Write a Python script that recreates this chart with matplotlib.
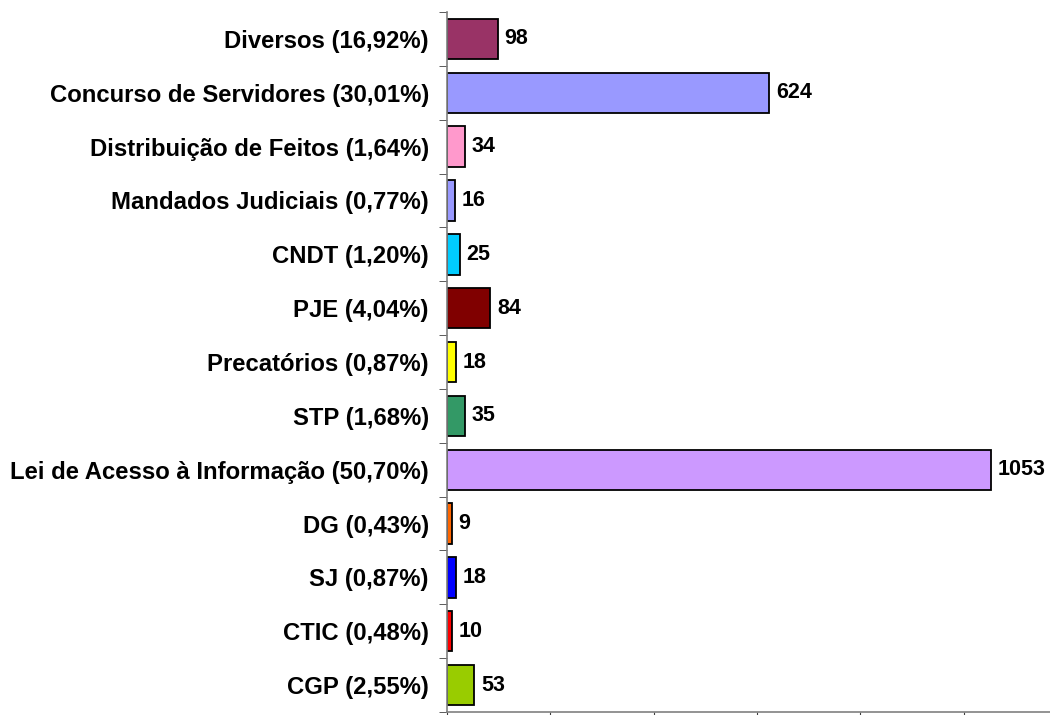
import numpy as np
import matplotlib
matplotlib.use("Agg")
import matplotlib.pyplot as plt

plt.rcParams['font.family'] = ['Liberation Sans', 'DejaVu Sans']

# Categories top to bottom, with their counts
categories = ['Diversos (16,92%)', 'Concurso de Servidores (30,01%)',
              'Distribuição de Feitos (1,64%)', 'Mandados Judiciais (0,77%)',
              'CNDT (1,20%)', 'PJE (4,04%)', 'Precatórios (0,87%)',
              'STP (1,68%)', 'Lei de Acesso à Informação (50,70%)',
              'DG (0,43%)', 'SJ (0,87%)', 'CTIC (0,48%)', 'CGP (2,55%)']
values = [98, 624, 34, 16, 25, 84, 18, 35, 1053, 9, 18, 10, 53]
colors = ['#993366', '#9999FF', '#FF99CC', '#9999FF', '#00CCFF', '#800000',
          '#FFFF00', '#339966', '#CC99FF', '#FF6600', '#0000FF', '#FF0000',
          '#99CC00']

fig = plt.figure(figsize=(10.5, 7.15), dpi=100)
ax = fig.add_axes([0.4257, 0.0042, 0.5905, 0.979])

n = len(categories)
ypos = np.arange(n)[::-1]
ax.barh(ypos, values, height=0.75, color=colors, edgecolor='black', linewidth=1.3)

for y, v in zip(ypos, values):
    ax.text(v + 13, y, str(v), va='center', ha='left', fontsize=15.5, fontweight='bold')

ax.set_xlim(0, 1200)
ax.set_ylim(-0.5, n - 0.5)
ax.set_xticks(np.arange(0, 1201, 200))
ax.set_xticklabels([])
ax.set_yticks(ypos)
ax.set_yticklabels(categories, fontsize=17.2, fontweight='bold')
ax.tick_params(axis='y', which='major', length=0, pad=13)
ax.set_yticks(np.arange(-0.5, n, 1), minor=True)
ax.tick_params(axis='y', which='minor', length=6, color='#404040')
ax.tick_params(axis='x', length=6, color='#404040')

for s in ['top', 'right']:
    ax.spines[s].set_visible(False)
for s in ['left', 'bottom']:
    ax.spines[s].set_color('#808080')
    ax.spines[s].set_linewidth(1.2)

fig.savefig('out.png', dpi=100)
